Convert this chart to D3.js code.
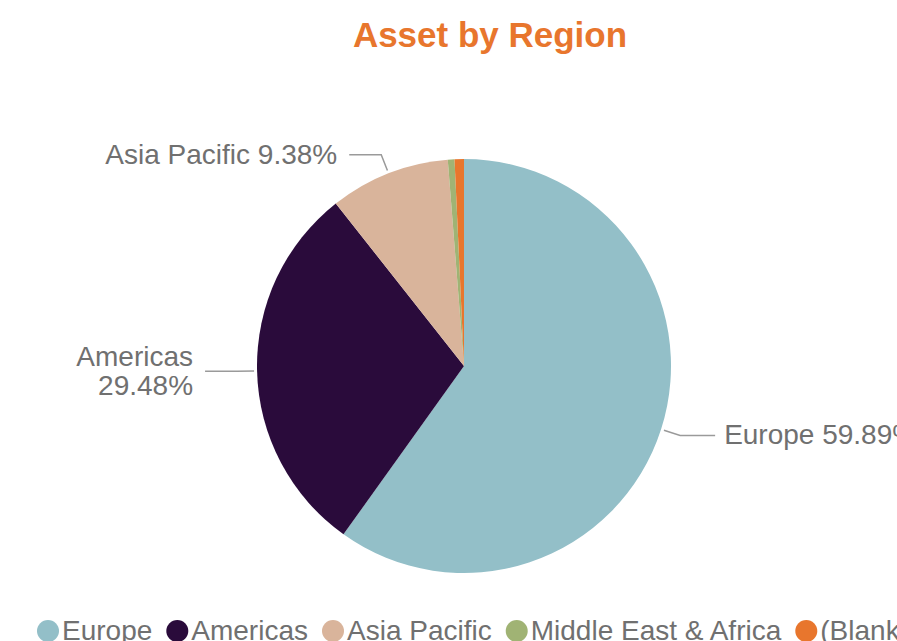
<!DOCTYPE html>
<html>
<head>
<meta charset="utf-8">
<script src="https://cdn.jsdelivr.net/npm/d3@7"></script>
<style>
  body { margin: 0; background: #fff; overflow: hidden; }
  svg { display: block; font-family: "Liberation Sans", Arial, sans-serif; }
</style>
</head>
<body>
<div id="chart"></div>
<script>
// data
const regions = ['Europe', 'Americas', 'Asia Pacific', 'Middle East & Africa', '(Blank)'];
const shares = [59.89, 29.48, 9.38, 0.52, 0.73];
const labelText = ['Europe 59.89%', 'Americas\n29.48%', 'Asia Pacific 9.38%', '', ''];
const colors = ['#93bfc8', '#2a0b3b', '#d9b49b', '#a0b374', '#e8762d'];

const dims = {width: 897, height: 641, radius: 207};
const cent = {x: 464, y: 366};

const svg = d3.select('#chart')
    .append('svg')
    .attr('width', dims.width)
    .attr('height', dims.height);

svg.append('text')
    .attr('x', 490)
    .attr('y', 47)
    .attr('text-anchor', 'middle')
    .attr('fill', '#e8762d')
    .attr('font-size', 35)
    .attr('font-weight', 'bold')
    .text('Asset by Region');

const data = regions.map((name, i) => ({name, value: shares[i], label: labelText[i]}));

const color = d3.scaleOrdinal(regions, colors);

const pie = d3.pie()
    .sort(null)
    .value(d => d.value);

const arcPath = d3.arc()
    .outerRadius(dims.radius)
    .innerRadius(0);

const graph = svg.append('g')
    .attr('transform', `translate(${cent.x}, ${cent.y})`);

const slices = pie(data);

graph.selectAll('path')
    .data(slices)
    .enter()
    .append('path')
    .attr('d', arcPath)
    .attr('fill', d => color(d.data.name));

// leader lines + labels
const pointAt = (a, r) => [Math.sin(a) * r, -Math.cos(a) * r];

const labelled = slices.filter(d => d.data.label);

labelled.forEach(d => {
    const a = (d.startAngle + d.endAngle) / 2;
    const right = Math.sin(a) > 0;
    const p1 = pointAt(a, dims.radius + 3);
    const p2 = pointAt(a, dims.radius + 20);
    const p3 = [p2[0] + (right ? 35 : -32), p2[1]];

    graph.append('polyline')
        .attr('points', [p1, p2, p3].map(p => p.join(',')).join(' '))
        .attr('fill', 'none')
        .attr('stroke', '#9a9a9a')
        .attr('stroke-width', 1.5);

    const lines = d.data.label.split('\n');
    const t = graph.append('text')
        .attr('x', p3[0] + (right ? 9 : -12))
        .attr('y', p3[1])
        .attr('text-anchor', right ? 'start' : 'end')
        .attr('fill', '#707070')
        .attr('font-size', 28);
    lines.forEach((ln, i) => {
        t.append('tspan')
            .attr('x', p3[0] + (right ? 9 : -12))
            .attr('dy', i === 0 ? (lines.length > 1 ? -5 : 9) : 29)
            .text(ln);
    });
});

// legend
const legend = svg.append('g').attr('transform', 'translate(0, 631)');
let lx = 37;
regions.forEach((name, i) => {
    const item = legend.append('g').attr('transform', `translate(${lx}, 0)`);
    item.append('circle')
        .attr('cx', 11)
        .attr('cy', 0)
        .attr('r', 11)
        .attr('fill', color(name));
    const txt = item.append('text')
        .attr('x', 25)
        .attr('y', 9)
        .attr('fill', '#707070')
        .attr('font-size', 28)
        .text(name);
    lx += 25 + txt.node().getComputedTextLength() + 14;
});
</script>
</body>
</html>
